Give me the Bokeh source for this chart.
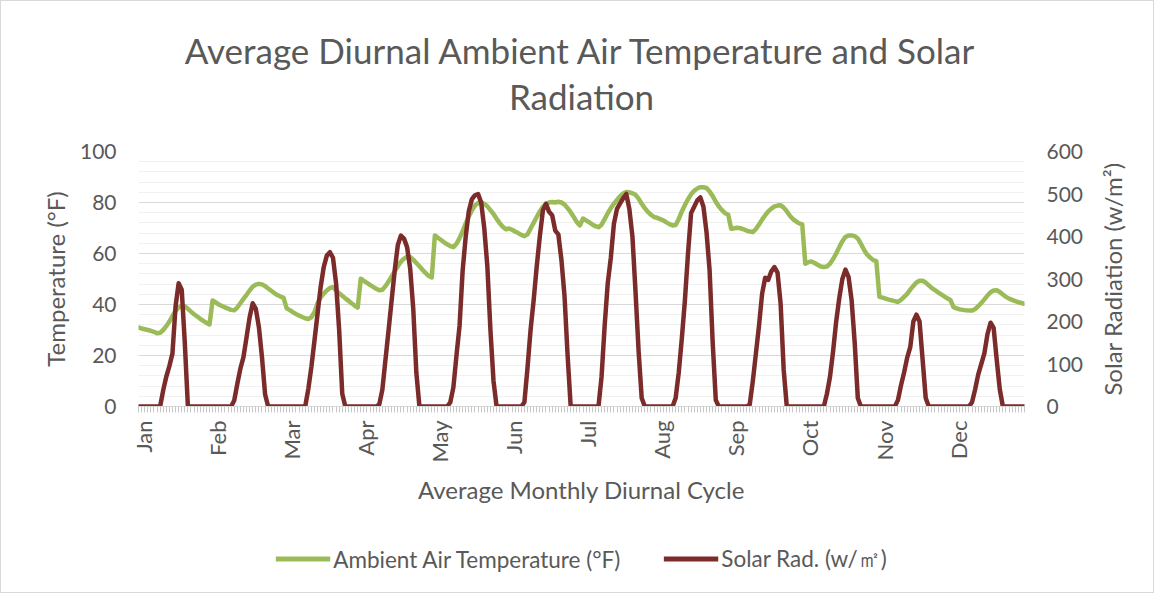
from math import pi
from bokeh.plotting import figure
from bokeh.layouts import column, row
from bokeh.models import Range1d, LinearAxis, FixedTicker, Legend, LegendItem, Label
from bokeh.embed import file_html
from bokeh.resources import INLINE

months = ["Jan", "Feb", "Mar", "Apr", "May", "Jun", "Jul", "Aug", "Sep", "Oct", "Nov", "Dec"]
title_lines = ["Average Diurnal Ambient Air Temperature and Solar", "Radiation"]

# Average hourly ambient air temperature (°F), hour 0..23 for each month
temp_jan = [31.0, 30.6, 30.3, 30.0, 29.7, 29.3, 28.7, 28.9, 30.0, 31.5, 33.3, 35.5, 37.5, 38.8, 39.6, 39.3, 38.3, 37.2, 36.2, 35.3, 34.4, 33.6, 32.8, 32.2]
temp_feb = [41.6, 40.8, 40.0, 39.4, 38.9, 38.4, 37.9, 37.7, 38.8, 40.5, 42.2, 43.8, 45.5, 47.0, 47.8, 48.1, 47.9, 47.2, 46.3, 45.4, 44.5, 43.7, 43.1, 42.6]
temp_mar = [38.5, 37.8, 37.0, 36.3, 35.7, 35.1, 34.6, 34.3, 35.0, 37.0, 40.5, 42.8, 44.3, 45.5, 46.5, 46.8, 45.5, 44.4, 43.4, 42.4, 41.5, 40.5, 39.6, 38.8]
temp_apr = [50.1, 49.3, 48.5, 47.7, 46.9, 46.2, 45.6, 45.8, 47.2, 49.0, 51.0, 53.0, 55.0, 56.8, 58.0, 58.7, 58.6, 57.6, 56.3, 55.0, 53.6, 52.3, 51.2, 50.6]
temp_may = [67.1, 66.2, 65.3, 64.4, 63.6, 62.9, 62.5, 63.8, 66.0, 68.8, 71.8, 74.5, 77.0, 78.8, 79.8, 80.1, 79.5, 78.5, 77.0, 75.5, 73.6, 71.9, 70.5, 69.5]
temp_jun = [69.8, 69.3, 68.6, 68.0, 67.3, 66.8, 67.5, 69.8, 72.0, 74.3, 76.5, 78.3, 79.5, 80.0, 80.2, 80.0, 80.3, 80.0, 79.2, 77.8, 76.2, 74.3, 72.3, 71.0]
temp_jul = [73.7, 73.0, 72.2, 71.4, 70.7, 70.3, 71.3, 73.5, 75.8, 77.8, 79.5, 81.0, 82.5, 83.5, 84.1, 84.0, 83.6, 83.0, 81.5, 79.5, 77.8, 76.3, 75.2, 74.3]
temp_aug = [74.0, 73.5, 73.0, 72.2, 71.5, 71.0, 71.2, 73.5, 76.5, 79.0, 81.3, 83.2, 84.6, 85.5, 86.0, 86.0, 85.7, 84.3, 82.5, 80.3, 78.4, 77.0, 75.8, 75.3]
temp_sep = [69.7, 69.9, 70.1, 69.9, 69.5, 69.0, 68.6, 68.4, 69.6, 71.4, 73.3, 75.0, 76.5, 77.6, 78.5, 78.8, 78.9, 78.0, 76.6, 74.8, 73.5, 72.6, 71.8, 71.4]
temp_oct = [56.0, 56.6, 56.9, 56.3, 55.6, 54.9, 54.7, 54.9, 56.0, 57.8, 60.0, 62.5, 64.8, 66.5, 67.1, 67.1, 66.8, 65.9, 63.8, 61.5, 59.6, 58.4, 57.4, 57.0]
temp_nov = [43.0, 42.7, 42.3, 41.9, 41.6, 41.3, 41.0, 41.8, 43.0, 44.2, 45.8, 47.3, 48.6, 49.3, 49.3, 48.6, 47.5, 46.4, 45.6, 44.8, 44.0, 43.2, 42.4, 41.8]
temp_dec = [39.0, 38.5, 38.1, 37.9, 37.7, 37.6, 37.6, 38.2, 39.3, 40.6, 42.0, 43.5, 44.8, 45.5, 45.6, 44.9, 43.9, 43.0, 42.3, 41.8, 41.3, 40.9, 40.6, 40.3]

# Average hourly solar radiation (w/m²), hour 0..23 for each month
solar_jan = [0, 0, 0, 0, 0, 0, 0, 0, 38, 70, 95, 125, 235, 290, 275, 150, 0, 0, 0, 0, 0, 0, 0, 0]
solar_feb = [0, 0, 0, 0, 0, 0, 0, 14, 53, 89, 116, 163, 210, 243, 230, 187, 116, 29, 0, 0, 0, 0, 0, 0]
solar_mar = [0, 0, 0, 0, 0, 0, 0, 41, 93, 155, 218, 281, 328, 355, 363, 350, 290, 180, 30, 0, 0, 0, 0, 0]
solar_apr = [0, 0, 0, 0, 0, 0, 5, 40, 110, 179, 250, 320, 380, 402, 395, 375, 325, 230, 80, 0, 0, 0, 0, 0]
solar_may = [0, 0, 0, 0, 0, 10, 45, 120, 190, 320, 400, 460, 488, 497, 500, 480, 420, 330, 180, 60, 0, 0, 0, 0]
solar_jun = [0, 0, 0, 0, 0, 10, 90, 180, 250, 330, 400, 462, 477, 458, 450, 414, 405, 345, 260, 120, 0, 0, 0, 0]
solar_jul = [0, 0, 0, 0, 0, 0, 70, 190, 290, 350, 430, 465, 478, 490, 500, 465, 400, 270, 130, 20, 0, 0, 0, 0]
solar_aug = [0, 0, 0, 0, 0, 0, 20, 80, 160, 250, 360, 455, 470, 485, 492, 470, 410, 320, 150, 15, 0, 0, 0, 0]
solar_sep = [0, 0, 0, 0, 0, 0, 5, 60, 125, 190, 265, 303, 298, 318, 328, 315, 242, 86, 0, 0, 0, 0, 0, 0]
solar_oct = [0, 0, 0, 0, 0, 0, 0, 30, 70, 130, 200, 255, 300, 322, 305, 250, 150, 20, 0, 0, 0, 0, 0, 0]
solar_nov = [0, 0, 0, 0, 0, 0, 15, 50, 80, 115, 140, 200, 216, 200, 110, 20, 0, 0, 0, 0, 0, 0, 0, 0]
solar_dec = [0, 0, 0, 0, 0, 0, 10, 40, 75, 100, 125, 170, 197, 185, 110, 40, 0, 0, 0, 0, 0, 0, 0, 0]

temp_ticks = [0, 20, 40, 60, 80, 100]
solar_ticks = [0, 100, 200, 300, 400, 500, 600]

temp_months = [temp_jan, temp_feb, temp_mar, temp_apr, temp_may, temp_jun,
               temp_jul, temp_aug, temp_sep, temp_oct, temp_nov, temp_dec]
solar_months = [solar_jan, solar_feb, solar_mar, solar_apr, solar_may, solar_jun,
                solar_jul, solar_aug, solar_sep, solar_oct, solar_nov, solar_dec]
temperature = [v for m in temp_months for v in m]
solar = [v for m in solar_months for v in m]
hours = list(range(len(temperature)))
n_per_month = len(temp_jan)

FONT = "Lato"
GREY = "#595959"
GREEN = "#9BBB59"
DARKRED = "#7B2C2A"
TOP, BOTTOM = 30, 115
LEFT, RIGHT = 137, 129

# ---- title strip ----
title_fig = figure(width=1152, height=120, output_backend="svg", toolbar_location=None,
                   x_range=Range1d(0, 1), y_range=Range1d(0, 120),
                   min_border_left=LEFT, min_border_right=RIGHT, min_border_top=0, min_border_bottom=0,
                   x_axis_type=None, y_axis_type=None)
title_fig.outline_line_color = None
title_fig.grid.visible = False
title_fig.border_fill_color = "white"
for txt, yb in zip(title_lines, [72, 26]):
    title_fig.add_layout(Label(x=0.5, y=yb, text=txt, text_align="center", text_baseline="alphabetic",
                               text_font=FONT, text_font_size="35px", text_color=GREY))

# ---- main chart ----
p = figure(width=1093, height=400, output_backend="svg", toolbar_location=None,
           x_range=Range1d(0, len(hours) - 1), y_range=Range1d(0, 100),
           min_border_left=LEFT, min_border_right=70, min_border_top=TOP, min_border_bottom=BOTTOM)
p.title.text = ""
p.title.standoff = 0
p.outline_line_color = None
p.background_fill_color = "white"
p.border_fill_color = "white"
p.extra_y_ranges = {"solar": Range1d(0, 600)}

p.line(hours, temperature, line_color=GREEN, line_width=4.5, line_join="round", line_cap="round")
p.line(hours, solar, y_range_name="solar", line_color=DARKRED, line_width=4.5,
       line_join="round", line_cap="round")

p.xgrid.grid_line_color = None
p.ygrid.grid_line_color = "#D9D9D9"
p.ygrid.grid_line_width = 1
p.ygrid.minor_grid_line_color = "#F0F0F0"
p.ygrid.minor_grid_line_width = 1

yax = p.yaxis[0]
yax.ticker = FixedTicker(ticks=temp_ticks, minor_ticks=list(range(0, 101, 4)))
yax.axis_label = "Temperature (°F)"
yax.axis_line_color = None
yax.major_tick_line_color = None
yax.minor_tick_line_color = None
yax.major_tick_out = 0
yax.minor_tick_out = 0
yax.major_label_standoff = 22
yax.axis_label_standoff = 7

ax2 = LinearAxis(y_range_name="solar", ticker=FixedTicker(ticks=solar_ticks))
ax2.axis_line_color = None
ax2.major_tick_line_color = None
ax2.minor_tick_line_color = None
ax2.major_tick_out = 0
ax2.minor_tick_out = 0
ax2.major_label_standoff = 22
p.add_layout(ax2, "right")

label_ticks = [n_per_month * i + 1.5 for i in range(len(months))]
xax = p.xaxis[0]
xax.ticker = FixedTicker(ticks=label_ticks, minor_ticks=hours)
xax.major_label_overrides = {t: m for t, m in zip(label_ticks, months)}
xax.major_label_orientation = pi / 2
xax.axis_label = "Average Monthly Diurnal Cycle"
xax.axis_line_color = "#D9D9D9"
xax.major_tick_line_color = None
xax.minor_tick_line_color = "#C8C8C8"
xax.major_tick_out = 6
xax.major_tick_in = 0
xax.minor_tick_out = 6
xax.minor_tick_in = 0
xax.major_label_standoff = 8
xax.axis_label_standoff = 9

for ax in (yax, ax2, xax):
    ax.major_label_text_font = FONT
    ax.major_label_text_color = GREY
    ax.axis_label_text_font = FONT
    ax.axis_label_text_color = GREY
    ax.axis_label_text_font_style = "normal"
    ax.axis_label_text_font_size = "24px"
    ax.major_label_text_font_size = "21px"
xax.major_label_text_font_size = "22px"

# ---- narrow strip carrying the secondary axis title ----
rfig = figure(width=59, height=400, output_backend="svg", toolbar_location=None,
              x_range=Range1d(0, 1), y_range=Range1d(0, 600), x_axis_type=None,
              min_border_left=28, min_border_right=0, min_border_top=TOP, min_border_bottom=BOTTOM)
rfig.title.text = ""
rfig.title.standoff = 0
rfig.outline_line_color = None
rfig.grid.visible = False
rfig.border_fill_color = "white"
ry = rfig.yaxis[0]
ry.ticker = FixedTicker(ticks=[])
ry.axis_label = "Solar Radiation (w/m²)"
ry.axis_line_color = None
ry.major_tick_line_color = None
ry.minor_tick_line_color = None
ry.major_tick_out = 0
ry.major_label_standoff = 0
ry.axis_label_standoff = 0
ry.axis_label_text_font = FONT
ry.axis_label_text_color = GREY
ry.axis_label_text_font_style = "normal"
ry.axis_label_text_font_size = "24px"

# ---- legend strip ----
leg_fig = figure(width=1152, height=71, output_backend="svg", toolbar_location=None,
                 x_range=Range1d(0, len(hours) - 1), y_range=Range1d(1000, 1001),
                 min_border_left=LEFT, min_border_right=RIGHT, min_border_top=4, min_border_bottom=0,
                 x_axis_type=None, y_axis_type=None)
leg_fig.outline_line_color = None
leg_fig.grid.visible = False
leg_fig.border_fill_color = "white"
lg_temp = leg_fig.line(hours, temperature, line_color=GREEN, line_width=5)
lg_solar = leg_fig.line(hours, solar, line_color=DARKRED, line_width=5)
legend = Legend(items=[LegendItem(label="Ambient Air Temperature (°F)", renderers=[lg_temp]),
                       LegendItem(label="Solar Rad. (w/㎡)", renderers=[lg_solar])],
                orientation="horizontal", location="center",
                glyph_width=55, glyph_height=24, label_height=24, label_standoff=3, spacing=43,
                padding=0, margin=0, border_line_color=None, background_fill_alpha=0,
                label_text_font=FONT, label_text_font_size="22.5px", label_text_color=GREY)
leg_fig.add_layout(legend)

layout = column(title_fig, row(p, rfig, spacing=0), leg_fig, spacing=0)
layout.styles = {"border": "1px solid #D9D9D9"}

open("out.html", "w").write(file_html(layout, INLINE))
